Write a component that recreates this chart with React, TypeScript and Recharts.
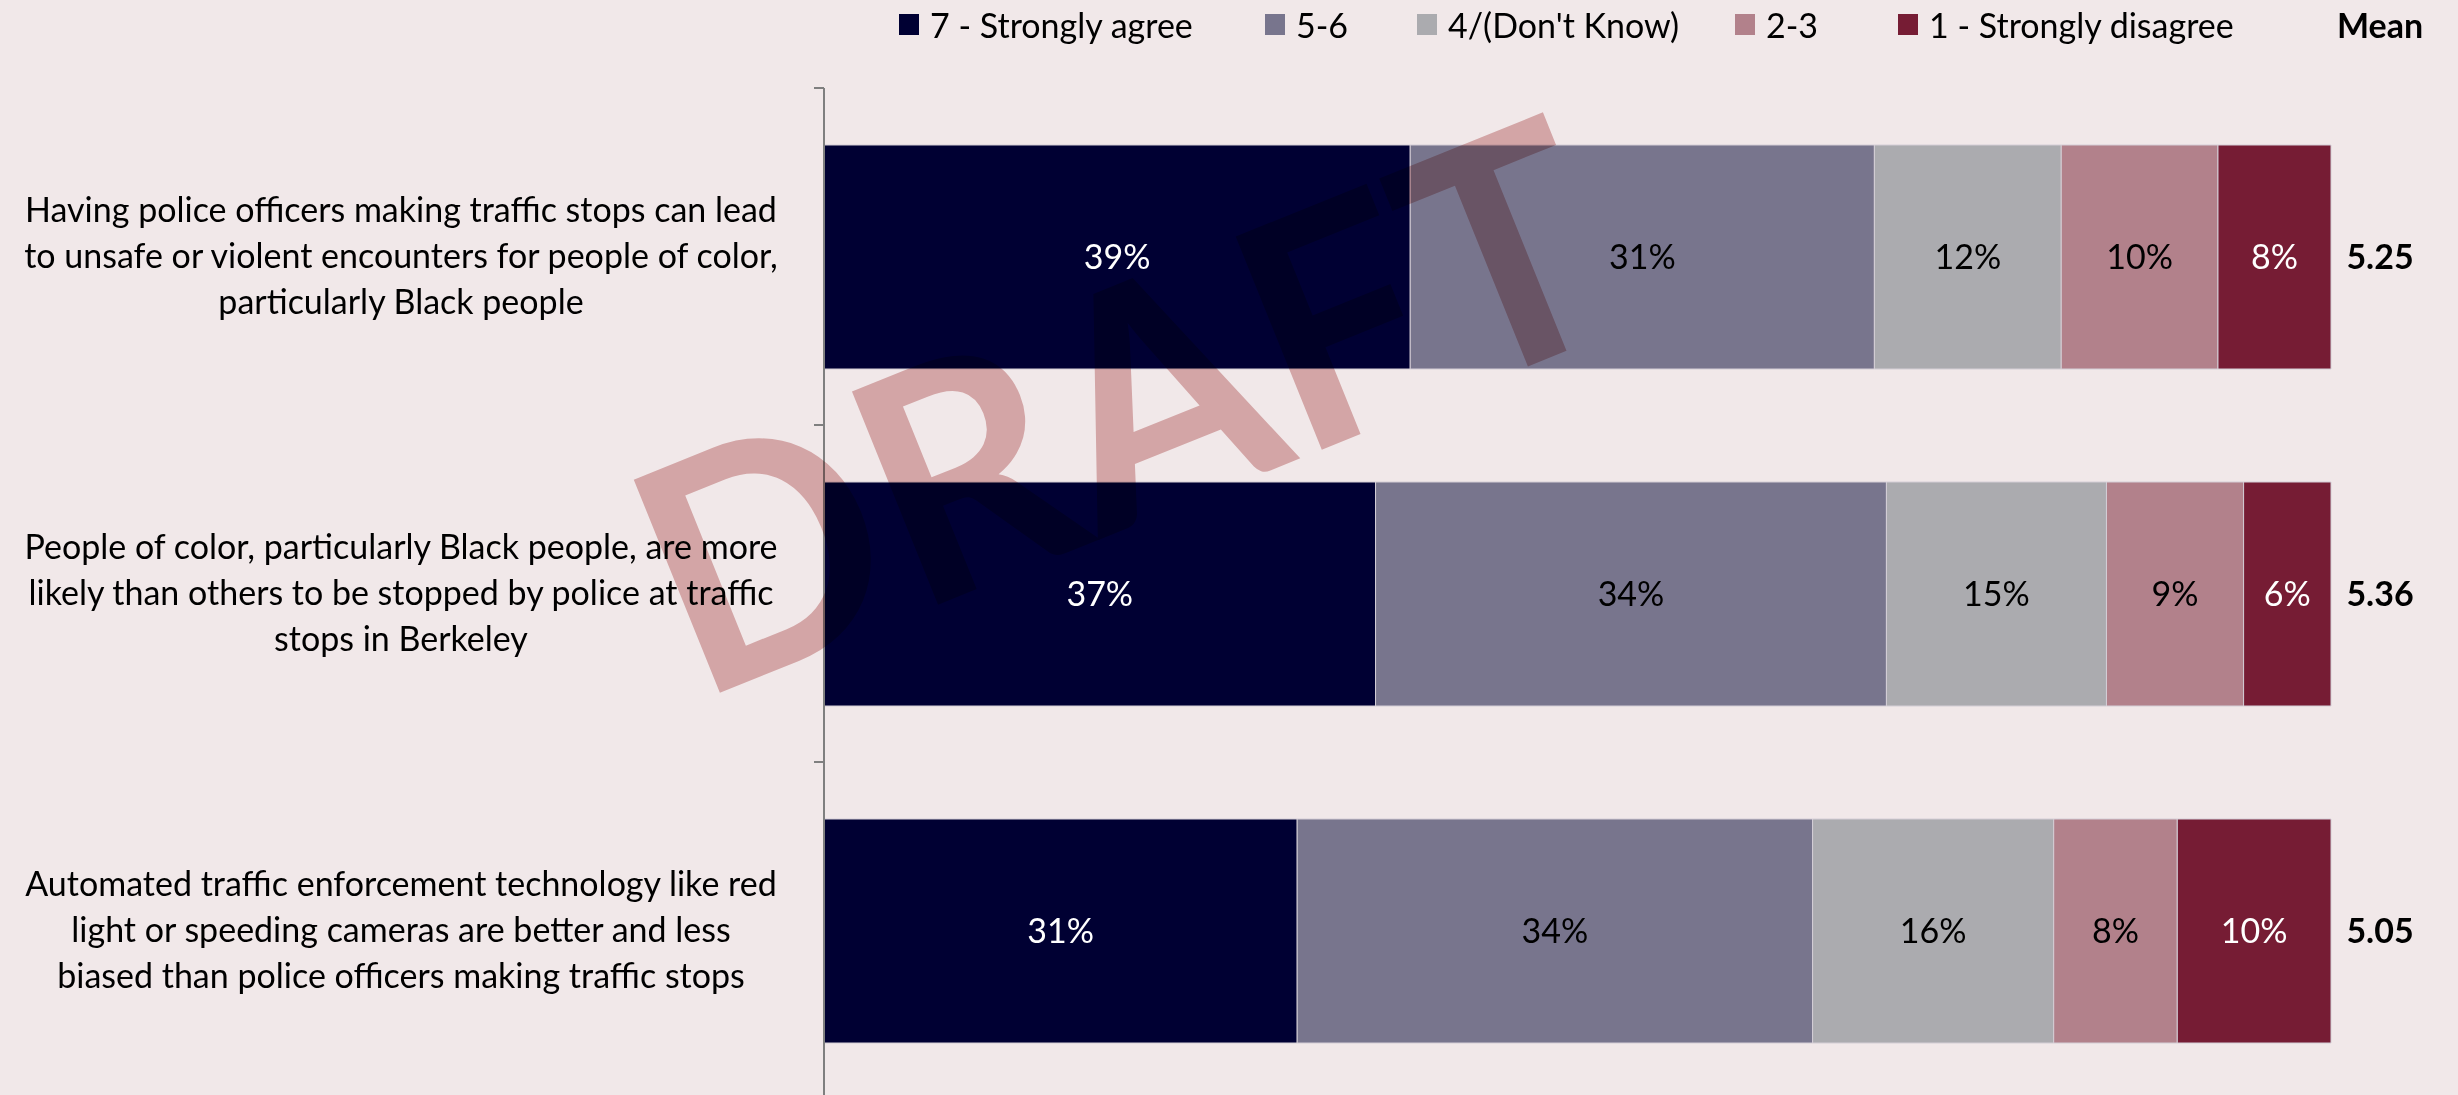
import React from 'react';
import { BarChart, Bar, XAxis, YAxis, LabelList } from 'recharts';

const CATEGORIES = [
  'Having police officers making traffic stops can lead\nto unsafe or violent encounters for people of color,\nparticularly Black people',
  'People of color, particularly Black people, are more\nlikely than others to be stopped by police at traffic\nstops in Berkeley',
  'Automated traffic enforcement technology like red\nlight or speeding cameras are better and less\nbiased than police officers making traffic stops',
];

const SERIES_NAMES = ['7 - Strongly agree', '5-6', "4/(Don't Know)", '2-3', '1 - Strongly disagree'];

const STRONGLY_AGREE = [38.9, 36.6, 31.4];
const AGREE = [30.8, 33.9, 34.2];
const NEUTRAL = [12.4, 14.6, 16.0];
const DISAGREE = [10.4, 9.1, 8.2];
const STRONGLY_DISAGREE = [7.5, 5.8, 10.2];
const MEANS = [5.25, 5.36, 5.05];

const SERIES_KEYS = ['s7', 's56', 's4', 's23', 's1'];
const COLORS = ['#000033', '#78758D', '#ABABAF', '#B2818B', '#761C34'];
const LABEL_COLORS = ['#ffffff', '#000000', '#000000', '#000000', '#ffffff'];
// left edge of each legend entry, matched to the original layout
const LEGEND_X = [899, 1265, 1417, 1735, 1898];

const FONT = 'Lato, "Noto Sans", sans-serif';
const BG = '#F1E8E9';
const AXIS_COLOR = '#7f7f7f';

const CHART_W = 2458;
const CHART_H = 1110;
const MARGIN = { top: 88, right: 127, bottom: 11, left: 0 };
const AXIS_W = 824;
const BAND = (CHART_H - MARGIN.top - MARGIN.bottom) / CATEGORIES.length;

const data = CATEGORIES.map((label, i) => ({
  label,
  s7: STRONGLY_AGREE[i],
  s56: AGREE[i],
  s4: NEUTRAL[i],
  s23: DISAGREE[i],
  s1: STRONGLY_DISAGREE[i],
  mean: MEANS[i],
}));

const CategoryTick = (props: any) => {
  const { y, payload, index } = props;
  const lines = String(payload.value).split('\n');
  const lh = 46;
  const y0 = y - ((lines.length - 1) * lh) / 2;
  const bounds = index === 0 ? [y - BAND / 2, y + BAND / 2] : [y + BAND / 2];
  return (
    <g>
      {bounds.map((by, i) => (
        <line key={i} x1={AXIS_W - 10} x2={AXIS_W} y1={by} y2={by} stroke={AXIS_COLOR} strokeWidth={2} />
      ))}
      <text textAnchor="middle" fontSize={34} fontFamily={FONT} fill="#000">
        {lines.map((line, i) => (
          <tspan key={i} x={401} y={y0 + i * lh} dy="0.35em">
            {line}
          </tspan>
        ))}
      </text>
    </g>
  );
};

const makeValueLabel = (color: string) => (p: any) => {
  const { x, y, width, height, value } = p;
  return (
    <text
      x={x + width / 2}
      y={y + height / 2}
      dy="0.35em"
      textAnchor="middle"
      fontSize={34}
      fontFamily={FONT}
      fill={color}
    >
      {Math.round(value)}%
    </text>
  );
};

const MeanLabel = (p: any) => {
  const { x, y, width, height, value } = p;
  return (
    <text
      x={x + width + 49}
      y={y + height / 2}
      dy="0.35em"
      textAnchor="middle"
      fontSize={34}
      fontWeight="bold"
      fontFamily={FONT}
      fill="#000"
    >
      {Number(value).toFixed(2)}
    </text>
  );
};

const LegendRow = () => (
  <>
    {SERIES_NAMES.map((name, i) => (
      <div
        key={name}
        style={{
          position: 'absolute',
          top: 5,
          left: LEGEND_X[i],
          height: 38,
          display: 'flex',
          alignItems: 'center',
          fontFamily: FONT,
          fontSize: 34,
          color: '#000',
          whiteSpace: 'nowrap',
        }}
      >
        <span style={{ width: 20, height: 21, background: COLORS[i], display: 'inline-block', marginRight: 11 }} />
        <span>{name}</span>
      </div>
    ))}
    <div
      style={{
        position: 'absolute',
        top: 5,
        left: 2337,
        height: 38,
        display: 'flex',
        alignItems: 'center',
        fontFamily: FONT,
        fontSize: 34,
        fontWeight: 'bold',
      }}
    >
      Mean
    </div>
  </>
);

export default function App() {
  return (
    <div
      style={{
        position: 'absolute',
        left: 0,
        top: 0,
        width: CHART_W,
        height: 1095,
        overflow: 'hidden',
        background: BG,
      }}
    >
      <BarChart width={CHART_W} height={CHART_H} data={data} layout="vertical" margin={MARGIN}>
        <XAxis type="number" domain={[0, 100]} hide />
        <YAxis
          type="category"
          dataKey="label"
          width={AXIS_W}
          axisLine={{ stroke: AXIS_COLOR, strokeWidth: 2 }}
          tickLine={false}
          tick={<CategoryTick />}
          interval={0}
        />
        {SERIES_KEYS.map((key, i) => (
          <Bar
            key={key}
            dataKey={key}
            name={SERIES_NAMES[i]}
            stackId="a"
            fill={COLORS[i]}
            stroke="#d4ced6"
            strokeWidth={1}
            barSize={224}
            isAnimationActive={false}
          >
            <LabelList dataKey={key} content={makeValueLabel(LABEL_COLORS[i])} />
            {i === SERIES_KEYS.length - 1 && <LabelList dataKey="mean" content={MeanLabel} />}
          </Bar>
        ))}
      </BarChart>
      <LegendRow />
      <svg
        width={CHART_W}
        height={1095}
        style={{ position: 'absolute', left: 0, top: 0, mixBlendMode: 'multiply', pointerEvents: 'none' }}
      >
        <text
          x={1165}
          y={513}
          transform="rotate(-22 1165 513)"
          textAnchor="middle"
          fontSize={318}
          fontWeight="bold"
          fontFamily={FONT}
          fill="#E0B6B6"
          textLength={1010}
          lengthAdjust="spacingAndGlyphs"
        >
          DRAFT
        </text>
      </svg>
    </div>
  );
}
